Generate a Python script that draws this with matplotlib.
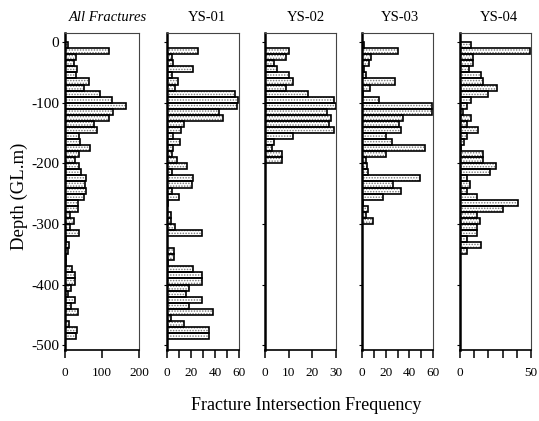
import numpy as np
import matplotlib
matplotlib.use('Agg')
import matplotlib.pyplot as plt

# ---------------- data (10 m depth bins, starting at 0 m) ----------------
bin_size = 10
titles = ["All Fractures", "YS-01", "YS-02", "YS-03", "YS-04"]
title_styles = ["italic", "normal", "normal", "normal", "normal"]

all_fractures = [7, 120, 30, 25, 32, 30, 64, 50, 95, 127,
                 165, 130, 118, 78, 86, 38, 40, 68, 38, 28,
                 37, 43, 58, 55, 58, 52, 36, 34, 14, 23,
                 14, 39, 2, 12, 8, 4, 2, 19, 26, 26,
                 15, 8, 28, 15, 35, 1, 10, 32, 31, 0]

ys01 = [0, 26, 4, 5, 22, 4, 9, 7, 57, 59,
        58, 43, 47, 14, 12, 5, 11, 5, 4, 8,
        17, 4, 22, 21, 4, 10, 1, 0, 3, 3,
        7, 29, 0, 0, 6, 6, 1, 22, 29, 29,
        18, 16, 29, 18, 38, 3, 14, 35, 35, 0]

ys02 = [0, 10, 9, 4, 5, 10, 12, 9, 18, 29,
        30, 26, 28, 27, 29, 12, 4, 3, 7, 7]

ys03 = [2, 30, 8, 6, 2, 3, 28, 7, 1, 14,
        59, 59, 35, 31, 33, 20, 25, 53, 20, 3,
        4, 5, 49, 26, 33, 18, 1, 5, 3, 9]

ys04 = [8, 49, 9, 9, 6, 15, 16, 26, 20, 8,
        5, 2, 8, 5, 13, 5, 3, 1, 16, 16,
        25, 21, 5, 7, 5, 12, 41, 30, 12, 14,
        12, 12, 5, 15, 5]

series = [all_fractures, ys01, ys02, ys03, ys04]
x_max = [200, 60, 30, 60, 50]
x_ticks = [[0, 100, 200], [0, 10, 20, 30, 40, 50, 60], [0, 10, 20, 30],
           [0, 10, 20, 30, 40, 50, 60], [0, 10, 20, 30, 40, 50]]
x_ticklabels = [["0", "100", "200"], ["0", "", "20", "", "40", "", "60"],
                ["0", "10", "20", "30"], ["0", "", "20", "", "40", "", "60"],
                ["0", "", "", "", "", "50"]]
y_ticks = [0, -100, -200, -300, -400, -500]
y_ticklabels = ["0", "-100", "-200", "-300", "-400", "-500"]

# ---------------- layout ----------------
W, H = 539, 421
panel_px = [(65, 139), (167, 239), (265, 336), (362, 433), (460, 531)]
title_x_px = [108, 207, 306, 400, 499]
top_px, bot_px = 33, 350

plt.rcParams['font.family'] = ['Liberation Serif', 'DejaVu Serif']
plt.rcParams['hatch.linewidth'] = 0.7

fig = plt.figure(figsize=(W / 100, H / 100), dpi=100)
fig.patch.set_facecolor('white')

for i, vals in enumerate(series):
    l, r = panel_px[i]
    ax = fig.add_axes([l / W, 1 - bot_px / H, (r - l) / W, (bot_px - top_px) / H])
    centers = -(np.arange(len(vals)) * bin_size + bin_size / 2)
    ax.barh(centers, vals, height=bin_size, left=0, facecolor='white',
            edgecolor='#777777', hatch='......', linewidth=0, zorder=2)
    ax.barh(centers, vals, height=bin_size, left=0, facecolor='none',
            edgecolor='black', linewidth=1.2, zorder=3)
    ax.set_xlim(0, x_max[i])
    ax.set_ylim(-508, 15)
    ax.set_xticks(x_ticks[i])
    ax.set_xticklabels(x_ticklabels[i], fontsize=9.5)
    ax.set_yticks(y_ticks)
    if i == 0:
        ax.set_yticklabels(y_ticklabels, fontsize=11)
    else:
        ax.set_yticklabels([])
    ax.tick_params(axis='x', direction='out', length=6, width=1.1, pad=6.5, colors='black')
    ax.tick_params(axis='y', direction='out', length=2.5, width=0.8, pad=1.5)
    ax.spines['left'].set_linewidth(1.8)
    ax.spines['bottom'].set_linewidth(1.2)
    ax.spines['top'].set_linewidth(0.8)
    ax.spines['right'].set_linewidth(0.8)
    ax.spines['top'].set_color('#444444')
    ax.spines['right'].set_color('#444444')
    fig.text(title_x_px[i] / W, 1 - 17.5 / H, titles[i], ha='center', va='center',
             fontsize=10.5, style=title_styles[i])

fig.text(306 / W, 1 - 406 / H, "Fracture Intersection Frequency", ha='center',
         va='center', fontsize=13)
fig.text(19 / W, 1 - 196 / H, "Depth (GL.m)", ha='center', va='center',
         rotation=90, fontsize=13.5)

fig.savefig('out.png', dpi=100)
